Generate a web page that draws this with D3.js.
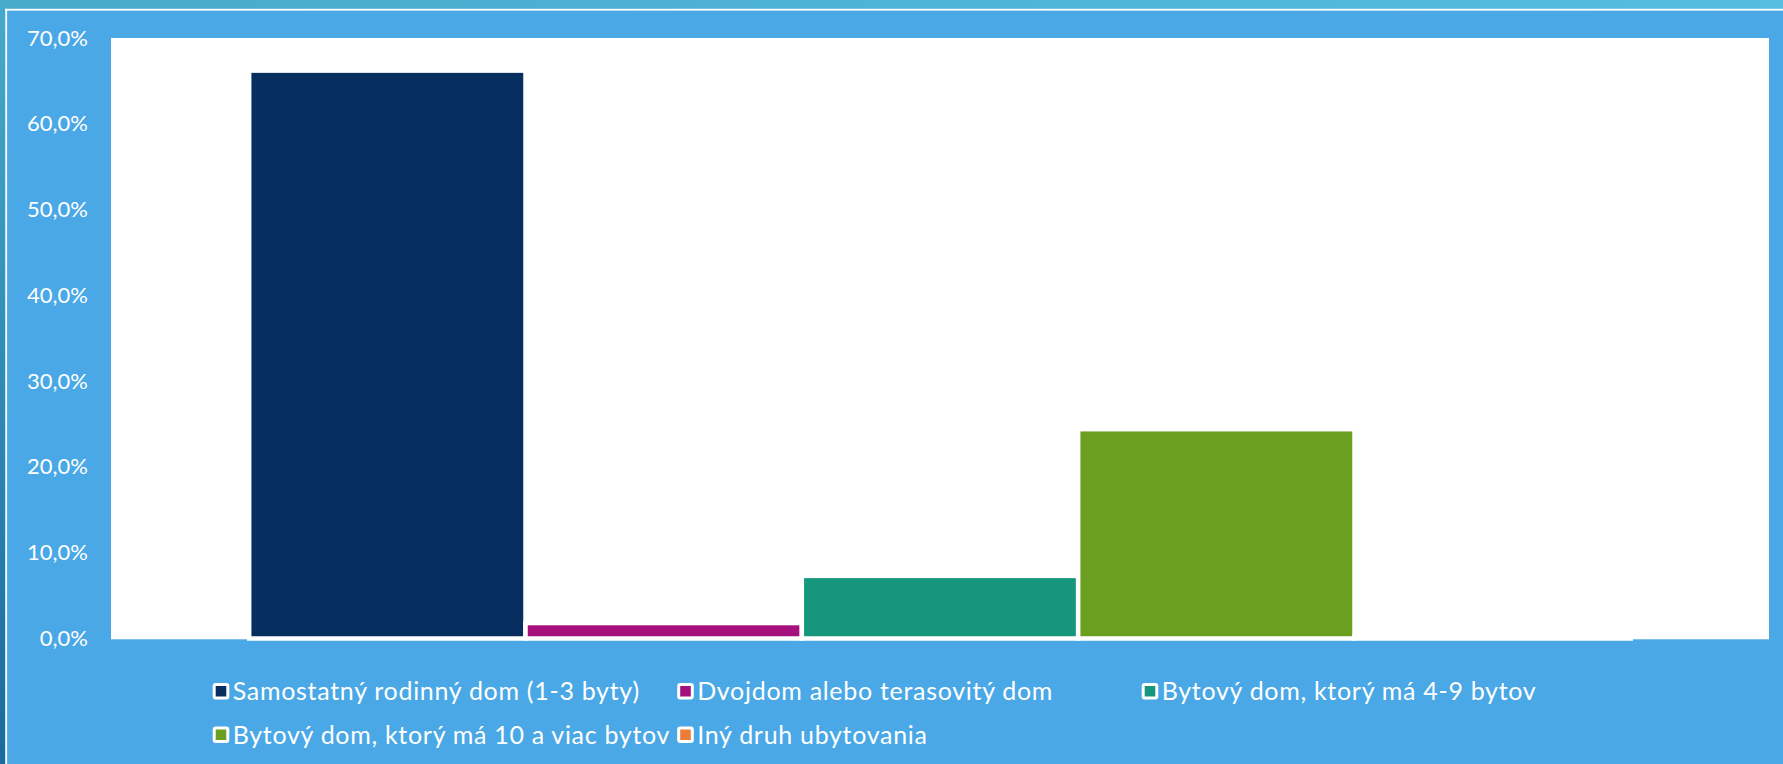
<!DOCTYPE html>
<html>
<head>
<meta charset="utf-8">
<script src="https://cdn.jsdelivr.net/npm/d3@7"></script>
<style>
  html, body { margin: 0; padding: 0; background: #4AA8E6; overflow: hidden; }
  svg { display: block; }
  text { font-family: Lato, "Open Sans", sans-serif; }
</style>
</head>
<body>
<svg id="chart" width="1783" height="764"></svg>
<script>
// ---- data ----
const series = [
  "Samostatný rodinný dom (1-3 byty)",
  "Dvojdom alebo terasovitý dom",
  "Bytový dom, ktorý má 4-9 bytov",
  "Bytový dom, ktorý má 10 a viac bytov",
  "Iný druh ubytovania"
];
const values = [66.2, 1.8, 7.3, 24.4, 0.3];
const colors = ["#062F60", "#A5107D", "#15967D", "#6A9F1F", "#EC7D35"];
const yTicks = [0, 10, 20, 30, 40, 50, 60, 70];

// ---- layout ----
const W = 1783, H = 764;
const plot = { left: 111, right: 1769, top: 38, bottom: 638.5 };

const svg = d3.select("#chart");
const defs = svg.append("defs");
const gTop = defs.append("linearGradient").attr("id", "gTop").attr("x1", 0).attr("x2", 1).attr("y1", 0).attr("y2", 0);
gTop.append("stop").attr("offset", "0%").attr("stop-color", "#46AACB");
gTop.append("stop").attr("offset", "100%").attr("stop-color", "#56BDDE");
const gLeft = defs.append("linearGradient").attr("id", "gLeft").attr("x1", 0).attr("x2", 0).attr("y1", 0).attr("y2", 1);
gLeft.append("stop").attr("offset", "0%").attr("stop-color", "#46AACB");
gLeft.append("stop").attr("offset", "100%").attr("stop-color", "#1A6B9D");

// background
svg.append("rect").attr("width", W).attr("height", H).attr("fill", "#4AA8E6");
svg.append("rect").attr("x", 0).attr("y", 0).attr("width", W).attr("height", 9).attr("fill", "url(#gTop)");
svg.append("rect").attr("x", 0).attr("y", 0).attr("width", 5.3).attr("height", H).attr("fill", "url(#gLeft)");
svg.append("rect").attr("x", 5.3).attr("y", 8.8).attr("width", W).attr("height", 1.8).attr("fill", "#ffffff");
svg.append("rect").attr("x", 5.3).attr("y", 8.8).attr("width", 1.8).attr("height", H).attr("fill", "#ffffff");

// plot area
svg.append("rect")
  .attr("x", plot.left).attr("y", plot.top)
  .attr("width", plot.right - plot.left).attr("height", plot.bottom - plot.top + 0.8)
  .attr("fill", "#ffffff");

// scales
const x = d3.scaleBand().domain(series).range([plot.left, plot.right]).paddingInner(0).paddingOuter(0.5);
const y = d3.scaleLinear().domain([0, 70]).range([plot.bottom, plot.top]);

// bars
svg.append("g").selectAll("rect").data(series).join("rect")
  .attr("x", d => x(d))
  .attr("width", x.bandwidth())
  .attr("y", (d, i) => y(values[i]))
  .attr("height", (d, i) => y(0) - y(values[i]))
  .attr("fill", (d, i) => colors[i])
  .attr("stroke", "#ffffff")
  .attr("stroke-width", 4.5);

// y axis
const loc = d3.formatLocale({ decimal: ",", thousands: " ", grouping: [3], currency: ["", " €"] });
const fmt = loc.format(".1f");
const yAxis = d3.axisLeft(y).tickValues(yTicks).tickSize(0).tickPadding(23).tickFormat(d => fmt(d) + "%");
const gy = svg.append("g").attr("transform", `translate(${plot.left},0)`).call(yAxis);
gy.select(".domain").remove();
gy.selectAll("text")
  .attr("fill", "#ffffff")
  .style("font-size", "22px")
  .style("font-family", "Lato, sans-serif");

// legend
const legX0 = 212.7, legColW = 464.5, legY0 = 691.3, legRowH = 43.4;
const leg = svg.append("g").selectAll("g").data(series).join("g")
  .attr("transform", (d, i) => `translate(${legX0 + (i % 3) * legColW},${legY0 + Math.floor(i / 3) * legRowH})`);
leg.append("rect")
  .attr("x", 1.5).attr("y", -6.8).attr("width", 13.6).attr("height", 13.6)
  .attr("rx", 1.5)
  .attr("fill", (d, i) => colors[i])
  .attr("stroke", "#ffffff").attr("stroke-width", 3);
leg.append("text")
  .attr("x", 20).attr("y", 0).attr("dy", "0.36em")
  .attr("fill", "#ffffff")
  .style("font-size", "25px")
  .style("letter-spacing", "0.7px")
  .text(d => d);
</script>
</body>
</html>
